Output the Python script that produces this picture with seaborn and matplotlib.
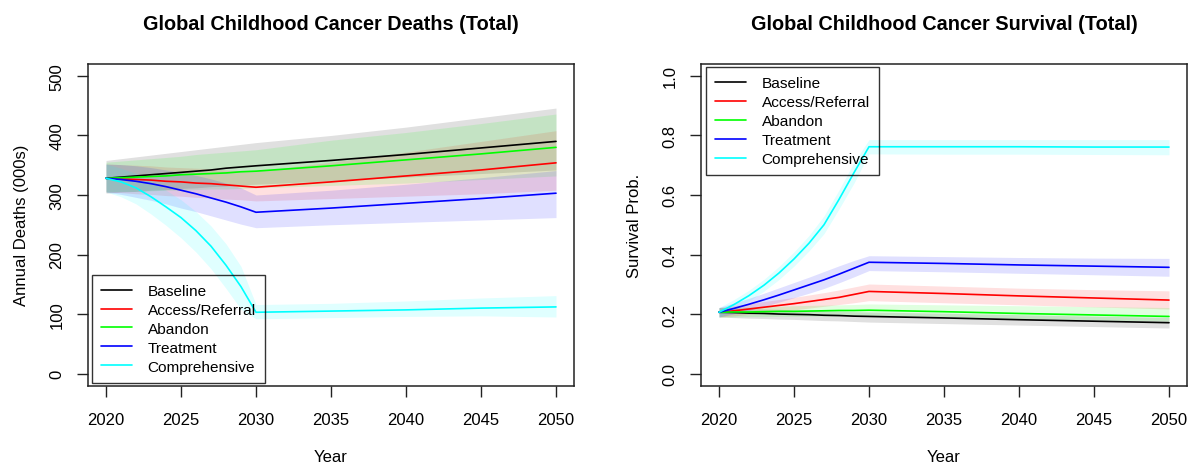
import matplotlib
matplotlib.use("Agg")
import matplotlib.pyplot as plt
from matplotlib.lines import Line2D
import pandas as pd
import seaborn as sns

# years: yearly scale-up 2020-2030, then every 5 years
years = [2020, 2021, 2022, 2023, 2024, 2025, 2026, 2027, 2028, 2029, 2030,
         2035, 2040, 2045, 2050]

scenarios = ["Baseline", "Access/Referral", "Abandon", "Treatment", "Comprehensive"]
colors = ["black", "red", "#00ff00", "blue", "cyan"]

# ---- annual deaths (000s): central, lower, upper ----
deaths_baseline = [328, 330, 332, 334, 336, 338, 340, 342, 345, 347, 349, 358, 368, 379, 390]
deaths_baseline_lo = [303, 305, 306, 308, 309, 311, 312, 314, 315, 317, 318, 324, 330, 336, 342]
deaths_baseline_hi = [358, 361, 364, 367, 370, 373, 376, 379, 382, 385, 388, 400, 414, 430, 446]

deaths_access = [328, 327, 326, 325, 323, 322, 320, 319, 317, 315, 313, 322, 332, 342, 354]
deaths_access_lo = [305, 304, 302, 301, 299, 298, 296, 295, 293, 292, 290, 294, 298, 302, 308]
deaths_access_hi = [352, 351, 350, 349, 347, 346, 345, 344, 342, 341, 340, 355, 372, 390, 408]

deaths_abandon = [328, 329, 330, 331, 332, 334, 335, 336, 337, 339, 340, 349, 359, 369, 380]
deaths_abandon_lo = [305, 306, 306, 307, 308, 308, 309, 310, 310, 311, 312, 316, 320, 326, 332]
deaths_abandon_hi = [355, 357, 359, 361, 363, 365, 368, 370, 372, 374, 376, 392, 405, 420, 436]

deaths_treatment = [328, 326, 323, 319, 314, 308, 302, 295, 288, 280, 271, 278, 286, 294, 303]
deaths_treatment_lo = [305, 301, 296, 291, 285, 278, 272, 265, 258, 251, 245, 250, 254, 258, 262]
deaths_treatment_hi = [352, 351, 349, 346, 342, 338, 333, 327, 320, 312, 300, 308, 318, 329, 341]

deaths_compr = [328, 322, 312, 297, 280, 262, 240, 214, 182, 146, 103, 105, 107, 110, 112]
deaths_compr_lo = [305, 297, 285, 268, 249, 228, 204, 176, 143, 108, 92, 94, 96, 97, 95]
deaths_compr_hi = [352, 345, 336, 323, 308, 292, 272, 248, 218, 180, 116, 118, 122, 127, 131]

# ---- survival probability: central, lower, upper ----
surv_baseline = [0.206, 0.205, 0.203, 0.202, 0.200, 0.199, 0.198, 0.196, 0.195, 0.193, 0.192,
                 0.187, 0.181, 0.176, 0.171]
surv_baseline_lo = [0.190, 0.188, 0.186, 0.185, 0.183, 0.182, 0.180, 0.178, 0.177, 0.175, 0.173,
                    0.168, 0.163, 0.158, 0.153]
surv_baseline_hi = [0.222, 0.220, 0.219, 0.217, 0.216, 0.214, 0.213, 0.211, 0.210, 0.208, 0.207,
                    0.203, 0.198, 0.193, 0.189]

surv_access = [0.206, 0.211, 0.217, 0.223, 0.229, 0.235, 0.242, 0.249, 0.256, 0.266, 0.276,
               0.269, 0.261, 0.254, 0.247]
surv_access_lo = [0.190, 0.194, 0.199, 0.204, 0.209, 0.214, 0.220, 0.226, 0.232, 0.238, 0.245,
                  0.238, 0.231, 0.224, 0.217]
surv_access_hi = [0.222, 0.228, 0.235, 0.242, 0.249, 0.256, 0.264, 0.272, 0.281, 0.291, 0.301,
                  0.294, 0.287, 0.282, 0.278]

surv_abandon = [0.206, 0.207, 0.207, 0.208, 0.209, 0.209, 0.210, 0.211, 0.212, 0.212, 0.213,
                0.208, 0.202, 0.197, 0.192]
surv_abandon_lo = [0.190, 0.190, 0.191, 0.191, 0.192, 0.192, 0.193, 0.193, 0.194, 0.194, 0.195,
                   0.190, 0.185, 0.180, 0.176]
surv_abandon_hi = [0.222, 0.223, 0.224, 0.225, 0.226, 0.228, 0.229, 0.230, 0.231, 0.232, 0.234,
                   0.231, 0.228, 0.225, 0.222]

surv_treatment = [0.206, 0.219, 0.233, 0.248, 0.264, 0.281, 0.298, 0.315, 0.334, 0.354, 0.374,
                  0.370, 0.365, 0.361, 0.357]
surv_treatment_lo = [0.190, 0.201, 0.213, 0.226, 0.240, 0.255, 0.270, 0.286, 0.305, 0.325, 0.346,
                     0.342, 0.337, 0.332, 0.327]
surv_treatment_hi = [0.222, 0.237, 0.253, 0.270, 0.288, 0.306, 0.324, 0.343, 0.362, 0.380, 0.396,
                     0.393, 0.390, 0.388, 0.387]

surv_compr = [0.206, 0.232, 0.262, 0.297, 0.338, 0.385, 0.438, 0.500, 0.585, 0.675, 0.762,
              0.762, 0.762, 0.761, 0.761]
surv_compr_lo = [0.190, 0.215, 0.244, 0.277, 0.316, 0.361, 0.412, 0.470, 0.553, 0.640, 0.738,
                 0.737, 0.737, 0.736, 0.735]
surv_compr_hi = [0.222, 0.249, 0.280, 0.317, 0.360, 0.409, 0.464, 0.530, 0.617, 0.710, 0.786,
                 0.786, 0.786, 0.786, 0.786]

deaths = {
    "Baseline": (deaths_baseline, deaths_baseline_lo, deaths_baseline_hi),
    "Access/Referral": (deaths_access, deaths_access_lo, deaths_access_hi),
    "Abandon": (deaths_abandon, deaths_abandon_lo, deaths_abandon_hi),
    "Treatment": (deaths_treatment, deaths_treatment_lo, deaths_treatment_hi),
    "Comprehensive": (deaths_compr, deaths_compr_lo, deaths_compr_hi),
}
survival = {
    "Baseline": (surv_baseline, surv_baseline_lo, surv_baseline_hi),
    "Access/Referral": (surv_access, surv_access_lo, surv_access_hi),
    "Abandon": (surv_abandon, surv_abandon_lo, surv_abandon_hi),
    "Treatment": (surv_treatment, surv_treatment_lo, surv_treatment_hi),
    "Comprehensive": (surv_compr, surv_compr_lo, surv_compr_hi),
}

sns.set_style("white")
plt.rcParams["font.family"] = ["Liberation Sans", "DejaVu Sans"]
plt.rcParams["text.color"] = "black"
plt.rcParams["axes.labelcolor"] = "black"
plt.rcParams["xtick.color"] = "#222222"
plt.rcParams["ytick.color"] = "#222222"
plt.rcParams["xtick.labelcolor"] = "black"
plt.rcParams["ytick.labelcolor"] = "black"
palette = dict(zip(scenarios, colors))

W, H = 1190, 464
fig = plt.figure(figsize=(W / 100, H / 100), dpi=100)


def px_axes(left, right, top, bottom):
    return fig.add_axes([left / W, 1 - bottom / H, (right - left) / W, (bottom - top) / H])


def draw_panel(ax, table, ylim, yticks, yticklabels, ylabel, title):
    long = []
    for name in scenarios:
        mid, lo, hi = table[name]
        ax.fill_between(years, lo, hi, color=palette[name], alpha=0.12, linewidth=0)
        long.append(pd.DataFrame({"year": years, "value": mid, "scenario": name}))
    df = pd.concat(long, ignore_index=True)
    sns.lineplot(data=df, x="year", y="value", hue="scenario", hue_order=scenarios,
                 palette=palette, estimator=None, sort=False, linewidth=1.2,
                 legend=False, ax=ax)

    # R-style 4% axis extension
    pad_x = 0.04 * 30
    pad_y = 0.04 * (ylim[1] - ylim[0])
    ax.set_xlim(2020 - pad_x, 2050 + pad_x)
    ax.set_ylim(ylim[0] - pad_y, ylim[1] + pad_y)
    ax.set_xticks(range(2020, 2051, 5))
    ax.set_yticks(yticks)
    ax.set_yticklabels(yticklabels, rotation=90, va="center")
    ax.tick_params(axis="both", direction="out", length=8, width=1,
                   labelsize=12, bottom=True, left=True)
    ax.tick_params(axis="x", pad=11)
    ax.tick_params(axis="y", pad=9)
    for s in ax.spines.values():
        s.set_color("#222222")
        s.set_linewidth(1.1)
    ax.set_xlabel("Year", fontsize=12, labelpad=16)
    ax.set_ylabel(ylabel, fontsize=12, labelpad=15)
    ax.set_title(title, fontsize=14.3, fontweight="bold", pad=25)


ax1 = px_axes(88, 574, 65, 386.5)
draw_panel(ax1, deaths, (0, 500), [0, 100, 200, 300, 400, 500],
           ["0", "100", "200", "300", "400", "500"],
           "Annual Deaths (000s)", "Global Childhood Cancer Deaths (Total)")

ax2 = px_axes(701, 1187, 65, 386.5)
draw_panel(ax2, survival, (0, 1), [0.0, 0.2, 0.4, 0.6, 0.8, 1.0],
           ["0.0", "0.2", "0.4", "0.6", "0.8", "1.0"],
           "Survival Prob.", "Global Childhood Cancer Survival (Total)")

handles = [Line2D([0], [0], color=c, lw=1.2) for c in colors]
leg_kw = dict(fontsize=11.1, frameon=True, fancybox=False, handlelength=2.0,
              handletextpad=1.0, labelspacing=0.32, borderpad=0.6, borderaxespad=0)
leg1 = ax1.legend(handles, scenarios, loc="lower left",
                  bbox_to_anchor=(92 / W, 1 - 384 / H), bbox_transform=fig.transFigure, **leg_kw)
leg2 = ax2.legend(handles, scenarios, loc="upper left",
                  bbox_to_anchor=(706 / W, 1 - 68 / H), bbox_transform=fig.transFigure, **leg_kw)
for leg in (leg1, leg2):
    fr = leg.get_frame()
    fr.set_edgecolor("black")
    fr.set_facecolor("none")
    fr.set_linewidth(1.0)

fig.savefig("out.png", dpi=100)
